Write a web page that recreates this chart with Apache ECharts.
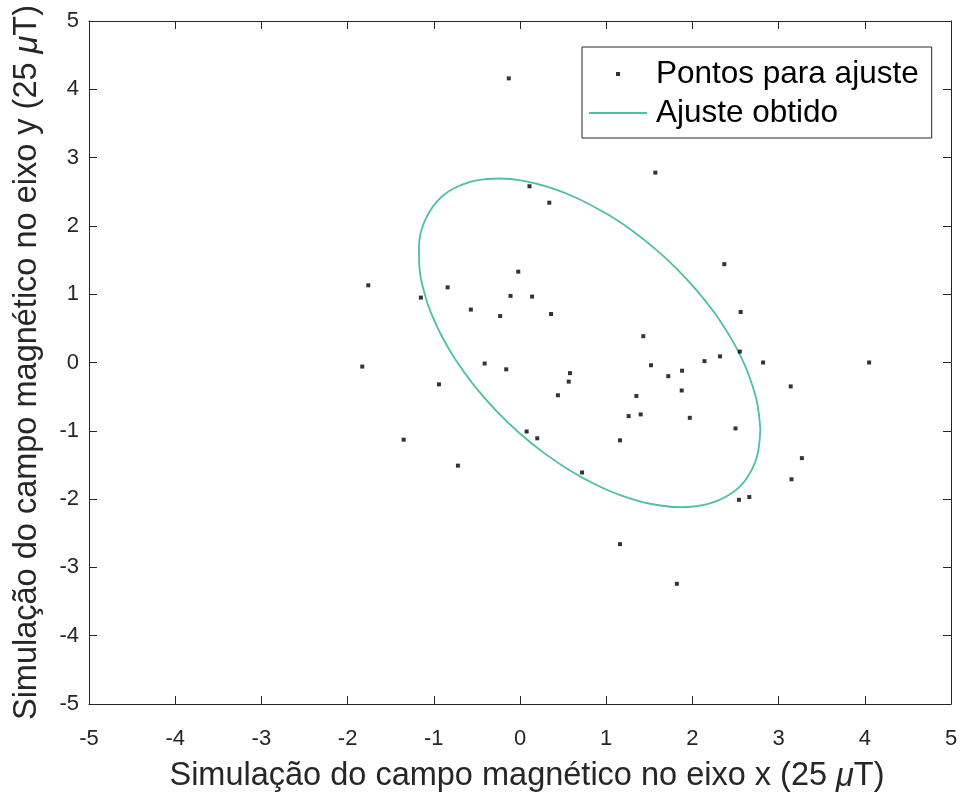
<!DOCTYPE html>
<html>
<head>
<meta charset="utf-8">
<title>Ajuste de elipse</title>
<script src="https://cdn.jsdelivr.net/npm/echarts@6/dist/echarts.min.js"></script>
<style>
  html, body { margin: 0; padding: 0; background: #ffffff; }
  #chart { width: 968px; height: 798px; }
</style>
</head>
<body>
<div id="chart"></div>
<script>
// Axis ranges and ticks
const xMin = -5, xMax = 5;
const yMin = -5, yMax = 5;
const tickStep = 1;

// Measured field samples (units of 25 µT)
const pointsX = [
  -0.13, 1.57, 0.11, 0.34, 2.37, -1.76, -0.84, -1.15, -0.02, -0.11,
  0.14, -0.57, -0.23, 0.36, 2.56, 1.43, -1.83, -0.41, -0.16, -0.94,
  0.58, 0.565, 0.44, -1.35, 0.077, 0.20, -0.72, 0.72, 1.52, 1.72,
  1.88, 1.876, 2.14, 2.32, 2.55, 2.82, 4.05, 3.14, 1.35, 1.26,
  1.40, 1.97, 1.16, 2.50, 3.27, 3.15, 2.54, 2.66, 1.16, 1.82
];
const pointsY = [
  4.16, 2.78, 2.58, 2.34, 1.44, 1.13, 1.10, 0.95, 1.33, 0.975,
  0.965, 0.775, 0.68, 0.71, 0.74, 0.385, -0.06, -0.015, -0.10, -0.32,
  -0.156, -0.28, -0.48, -1.13, -1.01, -1.11, -1.51, -1.61, -0.04, -0.20,
  -0.12, -0.41, 0.02, 0.09, 0.16, 0.0, 0.0, -0.35, -0.49, -0.785,
  -0.76, -0.81, -1.14, -0.965, -1.40, -1.71, -2.01, -1.97, -2.66, -3.24
];

// Fitted ellipse outline, sampled around the closed loop
const fitX = [
  2.788, 2.750, 2.625, 2.436, 2.173, 1.860, 1.510, 1.162, 0.870, 0.584,
  0.277, -0.005, -0.283, -0.545, -0.745, -0.900, -1.014, -1.089, -1.164, -1.172,
  -1.112, -0.964, -0.769, -0.502, -0.235, 0.026, 0.341, 0.658, 1.039, 1.302,
  1.575, 1.813, 2.057, 2.254, 2.445, 2.555, 2.658, 2.750, 2.788
];
const fitY = [
  -0.977, -1.374, -1.705, -1.930, -2.073, -2.118, -2.068, -1.941, -1.782, -1.584,
  -1.323, -1.036, -0.698, -0.316, 0.036, 0.366, 0.671, 0.929, 1.352, 1.703,
  2.051, 2.356, 2.547, 2.665, 2.694, 2.662, 2.564, 2.409, 2.151, 1.929,
  1.657, 1.379, 1.046, 0.731, 0.361, 0.103, -0.197, -0.583, -0.977
];

const seriesNames = ['Pontos para ajuste', 'Ajuste obtido'];
const xTitle = 'Simulação do campo magnético no eixo x (25 {mu|μ}T)';
const yTitle = 'Simulação do campo magnético no eixo y (25 {mu|μ}T)';

const FONT = '"Liberation Sans", Arial, Helvetica, sans-serif';
const AXIS_COLOR = '#262626';
const FIT_COLOR = '#4DBFA6';

// Legend markers: a tiny square centred in a larger invisible box, and a thin bar
const dotIcon = 'path://M0,0M30,30M13,13h4v4h-4z';
const lineIcon = 'path://M0,0h58v1.8h-58z';

const chart = echarts.init(document.getElementById('chart'), null, { renderer: 'canvas' });

function baseAxis(extra) {
  return Object.assign({
    type: 'value',
    interval: tickStep,
    splitLine: { show: false },
    axisLine: { show: true, onZero: false, lineStyle: { color: AXIS_COLOR, width: 1 } },
    axisTick: { show: true, inside: true, length: 8, lineStyle: { color: AXIS_COLOR, width: 1 } },
  }, extra);
}

function titleStyle(padding) {
  return {
    fontFamily: FONT,
    fontSize: 32.5,
    color: AXIS_COLOR,
    padding: padding,
    rich: { mu: { fontFamily: FONT, fontSize: 32.5, fontStyle: 'italic', color: AXIS_COLOR } }
  };
}

chart.setOption({
  animation: false,
  backgroundColor: '#ffffff',
  grid: { left: 89, right: 17, top: 21, bottom: 93, containLabel: false },
  xAxis: [
    baseAxis({
      min: xMin, max: xMax, position: 'bottom',
      name: xTitle, nameLocation: 'middle', nameGap: 56,
      nameTextStyle: titleStyle([0, 0, 0, 14]),
      axisLabel: { show: true, margin: 24, fontFamily: FONT, fontSize: 22, color: AXIS_COLOR }
    }),
    baseAxis({
      min: xMin, max: xMax, position: 'top',
      axisLabel: { show: false }
    })
  ],
  yAxis: [
    baseAxis({
      min: yMin, max: yMax, position: 'left',
      name: yTitle, nameLocation: 'middle', nameGap: 45,
      nameTextStyle: titleStyle(0),
      axisLabel: { show: true, margin: 10, fontFamily: FONT, fontSize: 22, color: AXIS_COLOR }
    }),
    baseAxis({
      min: yMin, max: yMax, position: 'right',
      axisLabel: { show: false }
    })
  ],
  legend: {
    orient: 'vertical',
    left: 582,
    top: 47,
    padding: [11, 13, 9, 7],
    itemWidth: 58,
    itemHeight: 30,
    itemGap: 7,
    borderColor: AXIS_COLOR,
    borderWidth: 1,
    borderRadius: 0,
    backgroundColor: '#ffffff',
    textStyle: { fontFamily: FONT, fontSize: 31.5, lineHeight: 32, color: '#000000', padding: [0, 0, 0, 4] },
    data: [
      { name: seriesNames[0], icon: dotIcon },
      { name: seriesNames[1], icon: lineIcon }
    ]
  },
  series: [
    {
      name: seriesNames[0],
      type: 'scatter',
      xAxisIndex: 0, yAxisIndex: 0,
      symbol: 'rect',
      symbolSize: 4,
      itemStyle: { color: '#000000' },
      emphasis: { disabled: true },
      data: pointsX.map((x, i) => [x, pointsY[i]]),
      z: 3
    },
    {
      name: seriesNames[1],
      type: 'line',
      xAxisIndex: 0, yAxisIndex: 0,
      symbol: 'none',
      showSymbol: false,
      smooth: 0.35,
      lineStyle: { color: FIT_COLOR, width: 1.8 },
      itemStyle: { color: FIT_COLOR },
      emphasis: { disabled: true },
      data: fitX.map((x, i) => [x, fitY[i]]),
      z: 2
    }
  ]
});
</script>
</body>
</html>
